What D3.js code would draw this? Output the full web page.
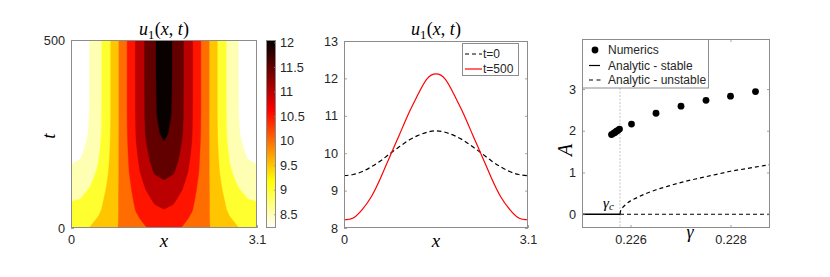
<!DOCTYPE html>
<html><head><meta charset="utf-8">
<script src="https://cdn.jsdelivr.net/npm/d3@7"></script>
<style>
body{margin:0;background:#fff}
svg{display:block}
</style>
</head><body>
<svg id="c" width="830" height="277"></svg>
<script>
// ---------------- DATA ----------------
const xSamples = [0,0.155,0.31,0.465,0.62,0.775,0.93,1.085,1.24,1.395,1.55,1.705,1.86,2.015,2.17,2.325,2.48,2.635,2.79,2.945,3.1];
const tRows = [0,25,50,75,100,125,150,175,200,225,250,300,400,500];
const uGrid = [
 [9.40,9.43,9.51,9.64,9.80,9.99,10.17,10.34,10.47,10.56,10.60,10.56,10.47,10.34,10.17,9.99,9.80,9.64,9.51,9.43,9.40],
 [9.25,9.28,9.38,9.54,9.74,9.98,10.21,10.43,10.61,10.74,10.80,10.74,10.61,10.43,10.21,9.98,9.74,9.54,9.38,9.28,9.25],
 [9.09,9.13,9.25,9.43,9.68,9.97,10.25,10.53,10.75,10.93,11.00,10.93,10.75,10.53,10.25,9.97,9.68,9.43,9.25,9.13,9.09],
 [8.98,9.01,9.15,9.36,9.64,9.97,10.28,10.60,10.86,11.07,11.15,11.07,10.86,10.60,10.28,9.97,9.64,9.36,9.15,9.01,8.98],
 [8.85,8.89,9.04,9.27,9.59,9.96,10.32,10.67,10.98,11.23,11.31,11.23,10.98,10.67,10.32,9.96,9.59,9.27,9.04,8.89,8.85],
 [8.72,8.76,8.92,9.18,9.54,9.95,10.35,10.75,11.10,11.38,11.48,11.38,11.10,10.75,10.35,9.95,9.54,9.18,8.92,8.76,8.72],
 [8.57,8.62,8.80,9.09,9.49,9.94,10.39,10.84,11.23,11.55,11.66,11.55,11.23,10.84,10.39,9.94,9.49,9.09,8.80,8.62,8.57],
 [8.48,8.53,8.72,9.02,9.45,9.94,10.41,10.89,11.31,11.67,11.79,11.67,11.31,10.89,10.41,9.94,9.45,9.02,8.72,8.53,8.48],
 [8.40,8.44,8.65,8.97,9.42,9.93,10.43,10.94,11.39,11.77,11.89,11.77,11.39,10.94,10.43,9.93,9.42,8.97,8.65,8.44,8.40],
 [8.33,8.37,8.59,8.92,9.39,9.93,10.45,10.99,11.45,11.85,11.98,11.85,11.45,10.99,10.45,9.93,9.39,8.92,8.59,8.37,8.33],
 [8.27,8.32,8.54,8.88,9.37,9.92,10.47,11.02,11.51,11.92,12.06,11.92,11.51,11.02,10.47,9.92,9.37,8.88,8.54,8.32,8.27],
 [8.23,8.28,8.51,8.86,9.35,9.92,10.48,11.04,11.54,11.97,12.10,11.97,11.54,11.04,10.48,9.92,9.35,8.86,8.51,8.28,8.23],
 [8.22,8.27,8.50,8.85,9.35,9.92,10.48,11.05,11.55,11.98,12.12,11.98,11.55,11.05,10.48,9.92,9.35,8.85,8.50,8.27,8.22],
 [8.22,8.27,8.50,8.85,9.35,9.92,10.48,11.05,11.55,11.98,12.12,11.98,11.55,11.05,10.48,9.92,9.35,8.85,8.50,8.27,8.22]
];
const contourLevels = [8.5,9,9.5,10,10.5,11,11.5,12];
const colorLimits = [8.22,12.05];
const colorbarTicks = [8.5,9,9.5,10,10.5,11,11.5,12];
const p1XTicks = [0,3.1], p1YTicks = [0,500];
const profileT0 = uGrid[0];
const profileT500 = uGrid[uGrid.length-1];
const p2YTicks = [8,9,10,11,12,13], p2XTicks = [0,3.1];
const legend2 = ["t=0","t=500"];

// Panel 3: bifurcation diagram
const gammaLim = [0.22503,0.22879];
const ALim = [-0.33,4.2];
const gammaC = 0.22579;
const numGamma = [0.22562,0.22566,0.22569,0.22572,0.22575,0.22578,0.22602,0.22651,0.22701,0.22751,0.22800,0.22850];
const numA     = [1.91,1.94,1.96,1.99,2.01,2.04,2.16,2.42,2.59,2.73,2.83,2.94];
const stableGamma = [0.22503,0.22579], stableA = [0,0];
const unstableZeroGamma = [0.22579,0.22879], unstableZeroA = [0,0];
const branchGamma = [0.22579,0.22580,0.22582,0.22585,0.2259,0.2260,0.2261,0.2263,0.2265,0.2268,0.2271,0.2274,0.2277,0.2280,0.2283,0.22879];
const branchA     = [0,0.07,0.12,0.17,0.23,0.32,0.38,0.49,0.58,0.69,0.79,0.87,0.95,1.03,1.09,1.19];
const p3XTicks = [0.226,0.228], p3YTicks = [0,1,2,3];
const legend3 = ["Numerics","Analytic - stable","Analytic - unstable"];

// ---------------- DRAWING ----------------
const svg = d3.select('#c');
const AX = '#8c8c8c', TXT = '#262626';
const SANS = '"Liberation Sans", Arial, sans-serif';
const SERIF = '"Liberation Serif", "Times New Roman", serif';
const TFS = 12.7;

function hot(s){ // MATLAB 'hot'
  const r = Math.min(1, Math.max(0, s/0.375));
  const g = Math.min(1, Math.max(0, (s-0.375)/0.375));
  const b = Math.min(1, Math.max(0, (s-0.75)/0.25));
  return d3.rgb(r*255, g*255, b*255).formatHex();
}
const color = d3.scaleSequential(s => hot(1-s)).domain(colorLimits).clamp(true);

function styleAxis(g){
  g.attr('font-family', null).attr('font-size', null);
  g.select('.domain').remove();
  g.selectAll('.tick line').attr('stroke', AX).attr('stroke-width', 0.8);
  g.selectAll('.tick text').attr('fill', TXT).style('font-family', SANS).style('font-size', TFS+'px');
}
function box(L,T,R,B){
  svg.append('rect').attr('x',L+0.5).attr('y',T+0.5).attr('width',R-L-1).attr('height',B-T-1)
    .attr('fill','none').attr('stroke',AX).attr('stroke-width',1);
}
function mathTitle(x,y){
  const t = svg.append('text').attr('x',x).attr('y',y).attr('text-anchor','middle')
    .style('font-family',SERIF).style('font-size','18px').attr('fill','#000');
  t.append('tspan').style('font-style','italic').text('u');
  t.append('tspan').attr('dy',3.5).style('font-size','12.5px').text('1');
  t.append('tspan').attr('dy',-3.5).attr('dx',0.5).text('(');
  t.append('tspan').style('font-style','italic').text('x');
  t.append('tspan').text(', ');
  t.append('tspan').style('font-style','italic').text('t');
  t.append('tspan').text(')');
}
function mathLabel(x,y,s,rot,fs){
  const t = svg.append('text').attr('text-anchor','middle')
    .attr('transform',`translate(${x},${y})`+(rot?` rotate(${rot})`:''))
    .style('font-family',SERIF).style('font-style','italic').style('font-size',(fs||19)+'px').attr('fill','#000').text(s);
  return t;
}

// ===== Panel 1 : contourf =====
const P1 = {L:71,R:257,T:40,B:228};
const x1 = d3.scaleLinear().domain([0,3.1]).range([P1.L,P1.R]);
const y1 = d3.scaleLinear().domain([0,500]).range([P1.B,P1.T]);
svg.append('clipPath').attr('id','clip1').append('rect').attr('x',P1.L).attr('y',P1.T).attr('width',P1.R-P1.L).attr('height',P1.B-P1.T);
const g1 = svg.append('g').attr('clip-path','url(#clip1)');
g1.append('rect').attr('x',P1.L).attr('y',P1.T).attr('width',P1.R-P1.L).attr('height',P1.B-P1.T).attr('fill',color(colorLimits[0]));
const nx = xSamples.length, ny = tRows.length;
const ix = d3.scaleLinear().domain(d3.range(nx)).range(xSamples);
const jt = d3.scaleLinear().domain(d3.range(ny)).range(tRows);
const proj = d3.geoTransform({point(px,py){
  const cx = Math.max(0, Math.min(nx-1, px-0.5));
  const cy = Math.max(0, Math.min(ny-1, py-0.5));
  this.stream.point(x1(ix(cx)), y1(jt(cy)));
}});
const cpath = d3.geoPath(proj);
const contours = d3.contours().size([nx,ny]).thresholds(contourLevels)(uGrid.flat());
g1.selectAll('path.c').data(contours).join('path').attr('class','c')
  .attr('d',cpath).attr('fill',d=>color(d.value)).attr('stroke',d=>color(d.value)).attr('stroke-width',0.3);
box(P1.L,P1.T,P1.R,P1.B);
styleAxis(svg.append('g').attr('transform',`translate(${P1.L},0)`).call(d3.axisLeft(y1).tickValues(p1YTicks).tickFormat(d3.format('d')).tickSizeInner(-3).tickSizeOuter(0).tickPadding(6)));
styleAxis(svg.append('g').attr('transform',`translate(0,${P1.B})`).call(d3.axisBottom(x1).tickValues(p1XTicks).tickFormat(d=>String(d)).tickSizeInner(-3).tickSizeOuter(0).tickPadding(7)));
mathTitle((P1.L+P1.R)/2, 35);
mathLabel((P1.L+P1.R)/2, 247, 'x');
mathLabel(55, 136, 't', -90);

// colorbar
const CB = {L:266,R:276,T:40,B:228};
const yc = d3.scaleLinear().domain(colorLimits).range([CB.B,CB.T]);
const grad = svg.append('defs').append('linearGradient').attr('id','cbg').attr('x1',0).attr('y1',1).attr('x2',0).attr('y2',0);
d3.range(0,65).forEach(k=>{
  const v = colorLimits[0] + (colorLimits[1]-colorLimits[0])*k/64;
  grad.append('stop').attr('offset',k/64).attr('stop-color',color(v));
});
svg.append('rect').attr('x',CB.L).attr('y',CB.T).attr('width',CB.R-CB.L).attr('height',CB.B-CB.T).attr('fill','url(#cbg)');
box(CB.L,CB.T,CB.R,CB.B);
styleAxis(svg.append('g').attr('transform',`translate(${CB.R},0)`).call(d3.axisRight(yc).tickValues(colorbarTicks).tickFormat(d=>String(d)).tickSizeInner(-2).tickSizeOuter(0).tickPadding(4)));

// ===== Panel 2 : profiles =====
const P2 = {L:344,R:528,T:41,B:228};
const x2 = d3.scaleLinear().domain([0,3.1]).range([P2.L,P2.R]);
const y2 = d3.scaleLinear().domain([8,13]).range([P2.B,P2.T]);
svg.append('clipPath').attr('id','clip2').append('rect').attr('x',P2.L).attr('y',P2.T).attr('width',P2.R-P2.L).attr('height',P2.B-P2.T);
const g2 = svg.append('g').attr('clip-path','url(#clip2)');
const line2 = d3.line().x((d,i)=>x2(xSamples[i])).y(d=>y2(d)).curve(d3.curveNatural);
g2.append('path').attr('d',line2(profileT0)).attr('fill','none').attr('stroke','#000').attr('stroke-width',1.2).attr('stroke-dasharray','4.5,3');
g2.append('path').attr('d',line2(profileT500)).attr('fill','none').attr('stroke','#ff0000').attr('stroke-width',1.2);
box(P2.L,P2.T,P2.R,P2.B);
styleAxis(svg.append('g').attr('transform',`translate(${P2.L},0)`).call(d3.axisLeft(y2).tickValues(p2YTicks).tickFormat(d3.format('d')).tickSizeInner(-3).tickSizeOuter(0).tickPadding(6)));
styleAxis(svg.append('g').attr('transform',`translate(${P2.R},0)`).call(d3.axisRight(y2).tickValues(p2YTicks).tickFormat('').tickSizeInner(-3).tickSizeOuter(0)));
styleAxis(svg.append('g').attr('transform',`translate(0,${P2.B})`).call(d3.axisBottom(x2).tickValues(p2XTicks).tickFormat(d=>String(d)).tickSizeInner(-3).tickSizeOuter(0).tickPadding(7)));
mathTitle((P2.L+P2.R)/2, 35);
mathLabel((P2.L+P2.R)/2, 247, 'x');
// legend 2
svg.append('rect').attr('x',462.5).attr('y',43.5).attr('width',56).attr('height',32).attr('fill','#fff').attr('stroke',AX).attr('stroke-width',1);
const lg2 = [{y:54, stroke:'#000', dash:'4,3'},{y:69, stroke:'#ff0000', dash:null}];
lg2.forEach((e,i)=>{
  svg.append('line').attr('x1',465).attr('x2',482).attr('y1',e.y).attr('y2',e.y).attr('stroke',e.stroke).attr('stroke-width',1.2).attr('stroke-dasharray',e.dash);
  svg.append('text').attr('x',483).attr('y',e.y+4.2).style('font-family',SANS).style('font-size','12px').attr('fill',TXT).text(legend2[i]);
});

// ===== Panel 3 : bifurcation =====
const P3 = {L:582,R:770,T:39,B:228};
const x3 = d3.scaleLinear().domain(gammaLim).range([P3.L,P3.R]);
const y3 = d3.scaleLinear().domain(ALim).range([P3.B,P3.T]);
svg.append('clipPath').attr('id','clip3').append('rect').attr('x',P3.L).attr('y',P3.T).attr('width',P3.R-P3.L).attr('height',P3.B-P3.T);
const g3 = svg.append('g').attr('clip-path','url(#clip3)');
g3.append('line').attr('x1',x3(gammaC)).attr('x2',x3(gammaC)).attr('y1',P3.T).attr('y2',P3.B)
  .attr('stroke','#b4b4b4').attr('stroke-width',0.8).attr('stroke-dasharray','2,1.5');
const line3 = (gs,as)=>d3.line().x((d,i)=>x3(gs[i])).y(d=>y3(d))(as);
g3.append('path').attr('d',line3(stableGamma,stableA)).attr('fill','none').attr('stroke','#000').attr('stroke-width',1.3);
g3.append('path').attr('d',line3(unstableZeroGamma,unstableZeroA)).attr('fill','none').attr('stroke','#000').attr('stroke-width',1.2).attr('stroke-dasharray','4,3');
g3.append('path').attr('d',d3.line().x((d,i)=>x3(branchGamma[i])).y(d=>y3(d)).curve(d3.curveMonotoneX)(branchA))
  .attr('fill','none').attr('stroke','#000').attr('stroke-width',1.2).attr('stroke-dasharray','4,3');
g3.selectAll('circle.n').data(numA).join('circle').attr('class','n')
  .attr('cx',(d,i)=>x3(numGamma[i])).attr('cy',d=>y3(d)).attr('r',3.4).attr('fill','#000');
box(P3.L,P3.T,P3.R,P3.B);
styleAxis(svg.append('g').attr('transform',`translate(${P3.L},0)`).call(d3.axisLeft(y3).tickValues(p3YTicks).tickFormat(d3.format('d')).tickSizeInner(-3).tickSizeOuter(0).tickPadding(6)));
styleAxis(svg.append('g').attr('transform',`translate(${P3.R},0)`).call(d3.axisRight(y3).tickValues(p3YTicks).tickFormat('').tickSizeInner(-3).tickSizeOuter(0)));
styleAxis(svg.append('g').attr('transform',`translate(0,${P3.B})`).call(d3.axisBottom(x3).tickValues(p3XTicks).tickFormat(d3.format('.3f')).tickSizeInner(-3).tickSizeOuter(0).tickPadding(7)));
styleAxis(svg.append('g').attr('transform',`translate(0,${P3.T})`).call(d3.axisTop(x3).tickValues(p3XTicks).tickFormat('').tickSizeInner(-3).tickSizeOuter(0)));
// legend 3
svg.append('rect').attr('x',582.5).attr('y',39.5).attr('width',126).attr('height',48.5).attr('fill','#fff').attr('stroke',AX).attr('stroke-width',1);
const lgY = [50, 65.5, 80];
svg.append('circle').attr('cx',595).attr('cy',lgY[0]).attr('r',3.4).attr('fill','#000');
svg.append('line').attr('x1',589).attr('x2',600).attr('y1',lgY[1]).attr('y2',lgY[1]).attr('stroke','#000').attr('stroke-width',1.2);
svg.append('line').attr('x1',589).attr('x2',601).attr('y1',lgY[2]).attr('y2',lgY[2]).attr('stroke','#000').attr('stroke-width',1.2).attr('stroke-dasharray','4,3.5');
legend3.forEach((s,i)=>{
  svg.append('text').attr('x',608).attr('y',lgY[i]+4.2).style('font-family',SANS).style('font-size','12px').attr('fill',TXT).text(s);
});
// gamma_c label
const gc = svg.append('text').attr('x',603).attr('y',208).style('font-family',SERIF).style('font-size','15px').attr('fill','#000');
gc.append('tspan').style('font-style','italic').text('γ');
gc.append('tspan').attr('dy',2).style('font-style','italic').style('font-size','11px').text('c');
mathLabel(690, 238, 'γ', 0, 18);
mathLabel(572, 150, 'A', -90, 20);
</script>
</body></html>
